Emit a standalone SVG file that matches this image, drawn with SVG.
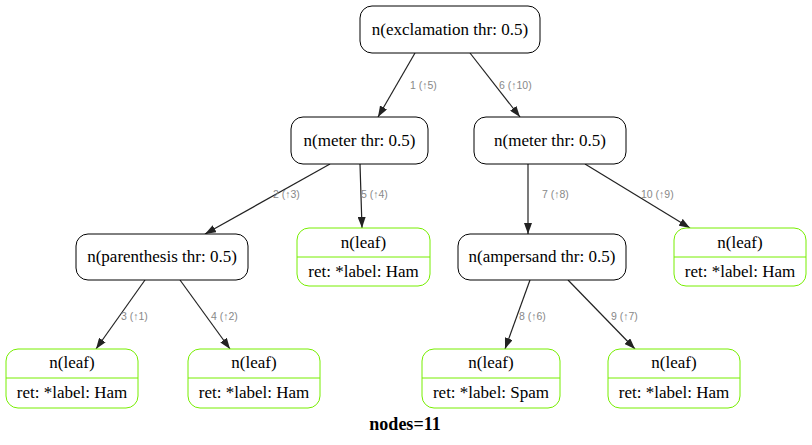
<svg xmlns="http://www.w3.org/2000/svg" width="812" height="445" viewBox="0 0 812 445">
<style>
.n rect{fill:#fff;stroke:#000;stroke-width:1}
.l rect{fill:#fff;stroke:#76ee00;stroke-width:1}
.l line{stroke:#76ee00;stroke-width:1}
.t{font-family:'Liberation Serif','DejaVu Serif',serif;font-size:17px;fill:#000;text-anchor:middle}
.e path{fill:none;stroke:#222;stroke-width:1.2}
.el{font-family:'Liberation Sans','DejaVu Sans',sans-serif;font-size:10.5px;fill:#888;text-anchor:start}
</style>
<defs>
<marker id="a" viewBox="0 0 11 8" refX="11" refY="4" markerWidth="11" markerHeight="8" markerUnits="userSpaceOnUse" orient="auto">
<path d="M0,0L11,4L0,8z" fill="#222"/>
</marker>
</defs>
<rect width="812" height="445" fill="#fff"/>
<g id="edges" class="e">
<path d="M415,53L378,117" marker-end="url(#a)"/>
<text class="el" x="410" y="89">1 (↑5)</text>
<path d="M470,53L520,117" marker-end="url(#a)"/>
<text class="el" x="499" y="89">6 (↑10)</text>
<path d="M330,164L205,234" marker-end="url(#a)"/>
<text class="el" x="273" y="198">2 (↑3)</text>
<path d="M360,164L362,228" marker-end="url(#a)"/>
<text class="el" x="361" y="198">5 (↑4)</text>
<path d="M528,164L528,234" marker-end="url(#a)"/>
<text class="el" x="542" y="198">7 (↑8)</text>
<path d="M585,164L690,228" marker-end="url(#a)"/>
<text class="el" x="641" y="198">10 (↑9)</text>
<path d="M145,280L96,349" marker-end="url(#a)"/>
<text class="el" x="121" y="320">3 (↑1)</text>
<path d="M180,280L230,349" marker-end="url(#a)"/>
<text class="el" x="211" y="320">4 (↑2)</text>
<path d="M530,280L505,349" marker-end="url(#a)"/>
<text class="el" x="519" y="320">8 (↑6)</text>
<path d="M568,280L635,349" marker-end="url(#a)"/>
<text class="el" x="611" y="320">9 (↑7)</text>
</g>
<g id="root" class="n"><rect x="360" y="6" width="180" height="47" rx="12"/><text class="t" x="450" y="35">n(exclamation thr: 0.5)</text></g>
<g id="meterL" class="n"><rect x="291" y="117" width="137" height="47" rx="12"/><text class="t" x="359.5" y="146">n(meter thr: 0.5)</text></g>
<g id="meterR" class="n"><rect x="474" y="117" width="152" height="47" rx="12"/><text class="t" x="550" y="146">n(meter thr: 0.5)</text></g>
<g id="paren" class="n"><rect x="76" y="234" width="172" height="46" rx="12"/><text class="t" x="162" y="262">n(parenthesis thr: 0.5)</text></g>
<g id="amp" class="n"><rect x="458" y="234" width="168" height="46" rx="12"/><text class="t" x="542" y="262">n(ampersand thr: 0.5)</text></g>
<g id="leaf5" class="l"><rect x="297" y="228" width="133" height="58" rx="12"/><line x1="297" y1="257" x2="430" y2="257"/><text class="t" x="363.5" y="248">n(leaf)</text><text class="t" x="363.5" y="277">ret: *label: Ham</text></g>
<g id="leaf10" class="l"><rect x="674" y="228" width="132" height="58" rx="12"/><line x1="674" y1="257" x2="806" y2="257"/><text class="t" x="740" y="248">n(leaf)</text><text class="t" x="740" y="277">ret: *label: Ham</text></g>
<g id="leaf3" class="l"><rect x="6" y="349" width="132" height="59" rx="12"/><line x1="6" y1="378" x2="138" y2="378"/><text class="t" x="72" y="368">n(leaf)</text><text class="t" x="72" y="398">ret: *label: Ham</text></g>
<g id="leaf4" class="l"><rect x="188" y="349" width="132" height="59" rx="12"/><line x1="188" y1="378" x2="320" y2="378"/><text class="t" x="254" y="368">n(leaf)</text><text class="t" x="254" y="398">ret: *label: Ham</text></g>
<g id="leaf8" class="l"><rect x="422" y="349" width="138" height="59" rx="12"/><line x1="422" y1="378" x2="560" y2="378"/><text class="t" x="491" y="368">n(leaf)</text><text class="t" x="491" y="398">ret: *label: Spam</text></g>
<g id="leaf9" class="l"><rect x="608" y="349" width="132" height="59" rx="12"/><line x1="608" y1="378" x2="740" y2="378"/><text class="t" x="674" y="368">n(leaf)</text><text class="t" x="674" y="398">ret: *label: Ham</text></g>
<text class="t" x="405" y="430" style="font-size:18px;font-weight:bold">nodes=11</text>
</svg>
